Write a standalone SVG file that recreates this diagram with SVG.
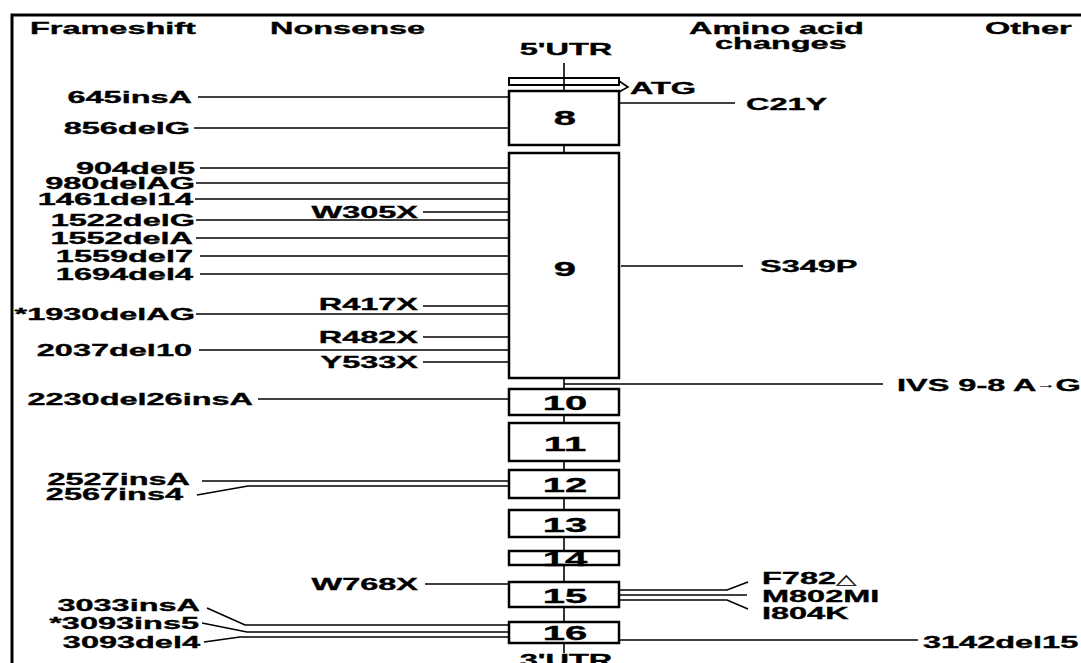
<svg xmlns="http://www.w3.org/2000/svg" width="1081" height="663" viewBox="0 0 1081 663">
<style>
.t{font-family:"Liberation Sans",Arial,"DejaVu Sans",sans-serif;font-weight:bold;font-size:17px;fill:#000;stroke:#000;stroke-width:0.35}
.n{font-family:"Liberation Sans",Arial,sans-serif;font-weight:bold;font-size:20px;fill:#000;stroke:#000;stroke-width:0.35}
.sm{font-size:10px;font-weight:normal;stroke-width:0.2}
.tri{font-family:"DejaVu Sans",sans-serif;font-size:14px;font-weight:normal;stroke-width:0.2}
.ln{stroke:#000;stroke-width:1.6;fill:none}
.bx{fill:#fff;stroke:#000;stroke-width:2.5}
.fr{stroke:#000;stroke-width:3;fill:none}
</style>
<rect width="1081" height="663" fill="#fff"/>
<g id="frame">
<polyline class="fr" points="12,663 12,15 1081,15"/>
</g>
<g id="headers">
<text class="t" transform="translate(30,34) scale(1.91,1)">Frameshift</text>
<text class="t" transform="translate(270,34) scale(1.91,1)">Nonsense</text>
<text class="t" transform="translate(566,55) scale(1.91,1)" text-anchor="middle">5'UTR</text>
<text class="t" transform="translate(689,34) scale(1.91,1)">Amino acid</text>
<text class="t" transform="translate(715,49) scale(1.91,1)">changes</text>
<text class="t" transform="translate(985,34) scale(1.91,1)">Other</text>
</g>
<g id="connectors">
<line class="ln" x1="564" y1="63" x2="564" y2="653"/>
<line class="ln" x1="198" y1="97" x2="509" y2="97"/>
<line class="ln" x1="194" y1="128" x2="509" y2="128"/>
<line class="ln" x1="200" y1="168" x2="509" y2="168"/>
<line class="ln" x1="196" y1="183" x2="509" y2="183"/>
<line class="ln" x1="195" y1="199" x2="509" y2="199"/>
<line class="ln" x1="196" y1="220" x2="509" y2="220"/>
<line class="ln" x1="196" y1="238" x2="509" y2="238"/>
<line class="ln" x1="200" y1="256" x2="509" y2="256"/>
<line class="ln" x1="200" y1="274" x2="509" y2="274"/>
<line class="ln" x1="196" y1="314" x2="509" y2="314"/>
<line class="ln" x1="199" y1="350" x2="509" y2="350"/>
<line class="ln" x1="258" y1="399" x2="509" y2="399"/>
<line class="ln" x1="202" y1="481" x2="509" y2="481"/>
<polyline class="ln" points="197,495 248,486 509,486"/>
<polyline class="ln" points="207,608 245,625 509,625"/>
<polyline class="ln" points="202,623 247,632 509,632"/>
<polyline class="ln" points="204,642 240,637 509,637"/>
<line class="ln" x1="423" y1="212" x2="509" y2="212"/>
<line class="ln" x1="423" y1="306" x2="509" y2="306"/>
<line class="ln" x1="423" y1="337" x2="509" y2="337"/>
<line class="ln" x1="423" y1="362" x2="509" y2="362"/>
<line class="ln" x1="425" y1="584" x2="509" y2="584"/>
<line class="ln" x1="620" y1="103" x2="735" y2="103"/>
<line class="ln" x1="621" y1="266" x2="743" y2="266"/>
<line class="ln" x1="564" y1="384" x2="883" y2="384"/>
<polyline class="ln" points="620,590 727,590 748,582"/>
<polyline class="ln" points="620,595 747,595"/>
<polyline class="ln" points="620,600 727,600 748,609"/>
<line class="ln" x1="620" y1="640" x2="918" y2="640"/>
</g>
<g id="utr5">
<rect x="509" y="78" width="110" height="7" fill="none" stroke="#000" stroke-width="2"/>
<polyline points="619,81 628,87 619,92" fill="none" stroke="#000" stroke-width="1.6"/>
<text class="t" transform="translate(630,94) scale(1.91,1)">ATG</text>
</g>
<g id="exon8"><rect class="bx" x="509" y="91" width="110" height="54"/><text class="n" transform="translate(565,125) scale(2,1)" text-anchor="middle">8</text></g>
<g id="exon9"><rect class="bx" x="509" y="153" width="110" height="225"/><text class="n" transform="translate(565,276) scale(2,1)" text-anchor="middle">9</text></g>
<g id="exon10"><rect class="bx" x="509" y="389" width="110" height="26"/><text class="n" transform="translate(565,410) scale(2,1)" text-anchor="middle">10</text></g>
<g id="exon11"><rect class="bx" x="509" y="423" width="110" height="38"/><text class="n" transform="translate(565,451) scale(2,1)" text-anchor="middle">11</text></g>
<g id="exon12"><rect class="bx" x="509" y="470" width="110" height="28"/><text class="n" transform="translate(565,492) scale(2,1)" text-anchor="middle">12</text></g>
<g id="exon13"><rect class="bx" x="509" y="510" width="110" height="27"/><text class="n" transform="translate(565,532) scale(2,1)" text-anchor="middle">13</text></g>
<g id="exon14"><rect class="bx" x="509" y="551" width="110" height="14"/><text class="n" transform="translate(565,566) scale(2,1)" text-anchor="middle">14</text></g>
<g id="exon15"><rect class="bx" x="509" y="582" width="110" height="25"/><text class="n" transform="translate(565,603) scale(2,1)" text-anchor="middle">15</text></g>
<g id="exon16"><rect class="bx" x="509" y="622" width="110" height="21"/><text class="n" transform="translate(565,640) scale(2,1)" text-anchor="middle">16</text></g>
<g id="utr3"><text class="t" transform="translate(566,666) scale(1.91,1)" text-anchor="middle">3'UTR</text></g>
<g id="frameshift">
<text class="t" transform="translate(192,103) scale(1.91,1)" text-anchor="end">645insA</text>
<text class="t" transform="translate(190,134) scale(1.91,1)" text-anchor="end">856delG</text>
<text class="t" transform="translate(195,174) scale(1.91,1)" text-anchor="end">904del5</text>
<text class="t" transform="translate(195,189) scale(1.91,1)" text-anchor="end">980delAG</text>
<text class="t" transform="translate(193,205) scale(1.91,1)" text-anchor="end">1461del14</text>
<text class="t" transform="translate(195,226) scale(1.91,1)" text-anchor="end">1522delG</text>
<text class="t" transform="translate(193,244) scale(1.91,1)" text-anchor="end">1552delA</text>
<text class="t" transform="translate(193,262) scale(1.91,1)" text-anchor="end">1559del7</text>
<text class="t" transform="translate(193,280) scale(1.91,1)" text-anchor="end">1694del4</text>
<text class="t" transform="translate(195,320) scale(1.91,1)" text-anchor="end">*1930delAG</text>
<text class="t" transform="translate(192,356) scale(1.91,1)" text-anchor="end">2037del10</text>
<text class="t" transform="translate(253,405) scale(1.91,1)" text-anchor="end">2230del26insA</text>
<text class="t" transform="translate(190,485) scale(1.91,1)" text-anchor="end">2527insA</text>
<text class="t" transform="translate(183,500) scale(1.91,1)" text-anchor="end">2567ins4</text>
<text class="t" transform="translate(200,611) scale(1.91,1)" text-anchor="end">3033insA</text>
<text class="t" transform="translate(199,629) scale(1.91,1)" text-anchor="end">*3093ins5</text>
<text class="t" transform="translate(200,648) scale(1.91,1)" text-anchor="end">3093del4</text>
</g>
<g id="nonsense">
<text class="t" transform="translate(418,218) scale(1.91,1)" text-anchor="end">W305X</text>
<text class="t" transform="translate(418,310) scale(1.91,1)" text-anchor="end">R417X</text>
<text class="t" transform="translate(418,343) scale(1.91,1)" text-anchor="end">R482X</text>
<text class="t" transform="translate(418,368) scale(1.91,1)" text-anchor="end">Y533X</text>
<text class="t" transform="translate(418,590) scale(1.91,1)" text-anchor="end">W768X</text>
</g>
<g id="aminoacid">
<text class="t" transform="translate(746,110) scale(1.91,1)">C21Y</text>
<text class="t" transform="translate(760,272) scale(1.91,1)">S349P</text>
<text class="t" transform="translate(762,584) scale(1.91,1)">F782<tspan class="tri">△</tspan></text>
<text class="t" transform="translate(762,602) scale(1.91,1)">M802MI</text>
<text class="t" transform="translate(762,619) scale(1.91,1)">I804K</text>
</g>
<g id="other">
<text class="t" transform="translate(897,391) scale(1.91,1)">IVS 9-8 A<tspan class="sm" dy="-3">→</tspan><tspan dy="3">G</tspan></text>
<text class="t" transform="translate(923,648) scale(1.91,1)">3142del15</text>
</g>
</svg>
